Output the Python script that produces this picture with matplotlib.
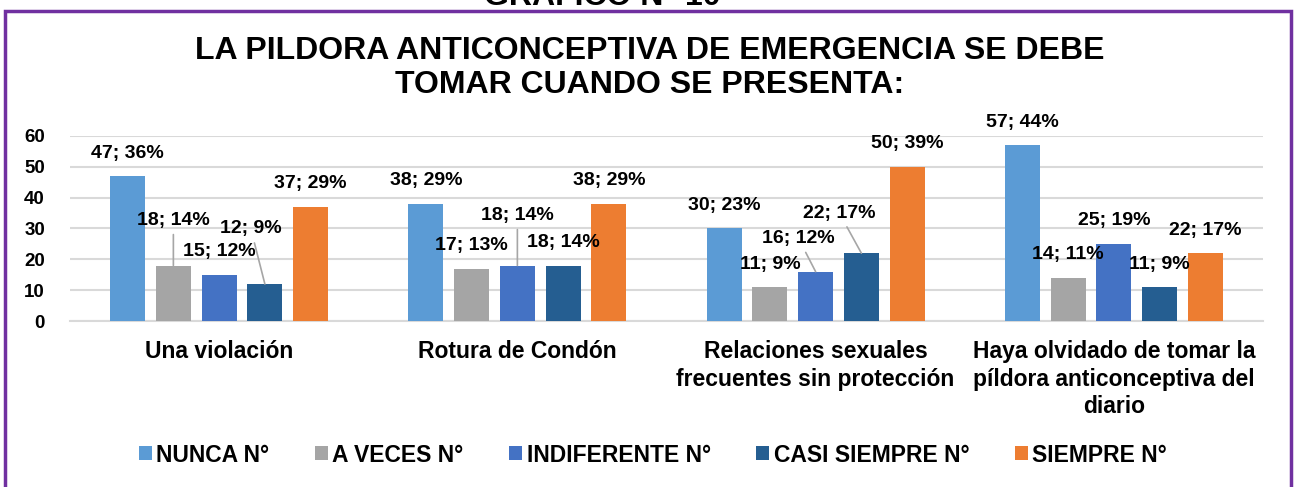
import matplotlib
matplotlib.use("Agg")
import matplotlib.pyplot as plt
from matplotlib.patches import Rectangle
import numpy as np

# datos del grafico
categorias = ["Una violación", "Rotura de Condón",
              "Relaciones sexuales\nfrecuentes sin protección",
              "Haya olvidado de tomar la\npíldora anticonceptiva del\ndiario"]
series = ["NUNCA N°", "A VECES N°", "INDIFERENTE N°", "CASI SIEMPRE N°", "SIEMPRE N°"]
nunca = [47, 38, 30, 57]
a_veces = [18, 17, 11, 14]
indiferente = [15, 18, 16, 25]
casi_siempre = [12, 18, 22, 11]
siempre = [37, 38, 50, 22]
pct_nunca = [36, 29, 23, 44]
pct_a_veces = [14, 13, 9, 11]
pct_indiferente = [12, 14, 12, 19]
pct_casi_siempre = [9, 14, 17, 9]
pct_siempre = [29, 29, 39, 17]

valores = [nunca, a_veces, indiferente, casi_siempre, siempre]
porcentajes = [pct_nunca, pct_a_veces, pct_indiferente, pct_casi_siempre, pct_siempre]
colores = ["#5B9BD5", "#A5A5A5", "#4472C4", "#255E91", "#ED7D31"]

# etiquetas desplazadas con linea guia (serie, categoria) -> (dx, dy) en pixeles
desplazadas = {(1, 0): (0, 45), (3, 0): (-14, 55), (2, 1): (0, 50),
               (2, 2): (-17, 33), (3, 2): (-22, 40)}

fig = plt.figure(figsize=(12.96, 4.87), dpi=100)
ax = fig.add_axes([70 / 1296, 166 / 487, 1193 / 1296, 185 / 487])

x = np.arange(len(categorias))
paso = 0.1534
ancho = 0.1175
for i, (vals, pcts) in enumerate(zip(valores, porcentajes)):
    pos = x + (i - 2) * paso
    ax.bar(pos, vals, ancho, color=colores[i], label=series[i], zorder=3)
    for j, (xp, v, p) in enumerate(zip(pos, vals, pcts)):
        txt = f"{v}; {p}%"
        if (i, j) in desplazadas:
            dx, dy = desplazadas[(i, j)]
            ax.annotate(txt, xy=(xp, v), xytext=(dx, dy), textcoords="offset pixels",
                        ha="center", va="center", fontsize=14, fontweight="bold",
                        family="Liberation Sans", zorder=5,
                        arrowprops=dict(arrowstyle="-", color="#A6A6A6", lw=1.2,
                                        shrinkA=2, shrinkB=0))
        else:
            ax.annotate(txt, xy=(xp, v), xytext=(0, 23), textcoords="offset pixels",
                        ha="center", va="center", fontsize=14, fontweight="bold",
                        family="Liberation Sans", zorder=5)

ax.set_xlim(-0.5, 3.5)
ax.set_ylim(0, 60)
ax.set_yticks(range(0, 61, 10))
ax.yaxis.grid(True, color="#D9D9D9", lw=1.5, zorder=0)
ax.set_xticks(x)
ax.set_xticklabels(categorias, fontsize=16.5, fontweight="bold", family="Liberation Sans",
                   linespacing=1.25)
for t in ax.get_yticklabels():
    t.set_fontsize(13.5)
    t.set_fontweight("bold")
    t.set_family("Liberation Sans")
ax.tick_params(axis="x", length=0, pad=14)
ax.tick_params(axis="y", length=0, pad=18)
for s in ["top", "right", "left"]:
    ax.spines[s].set_visible(False)
ax.spines["bottom"].set_color("#D9D9D9")
ax.spines["bottom"].set_linewidth(1.5)

# titulos
fig.text(602 / 1296, 1 - 5 / 487, "GRAFICO N° 10", ha="center", va="baseline",
         fontsize=23, fontweight="bold", family="Liberation Sans")
fig.text(650 / 1296, 1 - 68 / 487,
         "LA PILDORA ANTICONCEPTIVA DE EMERGENCIA SE DEBE\nTOMAR CUANDO SE PRESENTA:",
         ha="center", va="center", fontsize=23, fontweight="bold",
         family="Liberation Sans", linespacing=1.2)

leg = fig.legend(loc="center", bbox_to_anchor=(653 / 1296, 32 / 487), ncol=5,
                 frameon=False, handlelength=0.55, handleheight=0.55,
                 handletextpad=0.2, columnspacing=2.0,
                 prop={"family": "Liberation Sans", "weight": "bold", "size": 16.5})

# marco morado
fig.patches.append(Rectangle((5 / 1296, -0.05), 1286 / 1296, 1 - 11 / 487 + 0.05,
                             transform=fig.transFigure, fill=False,
                             edgecolor="#7030A0", lw=2.5, zorder=10))

fig.savefig("out.png", dpi=100)
